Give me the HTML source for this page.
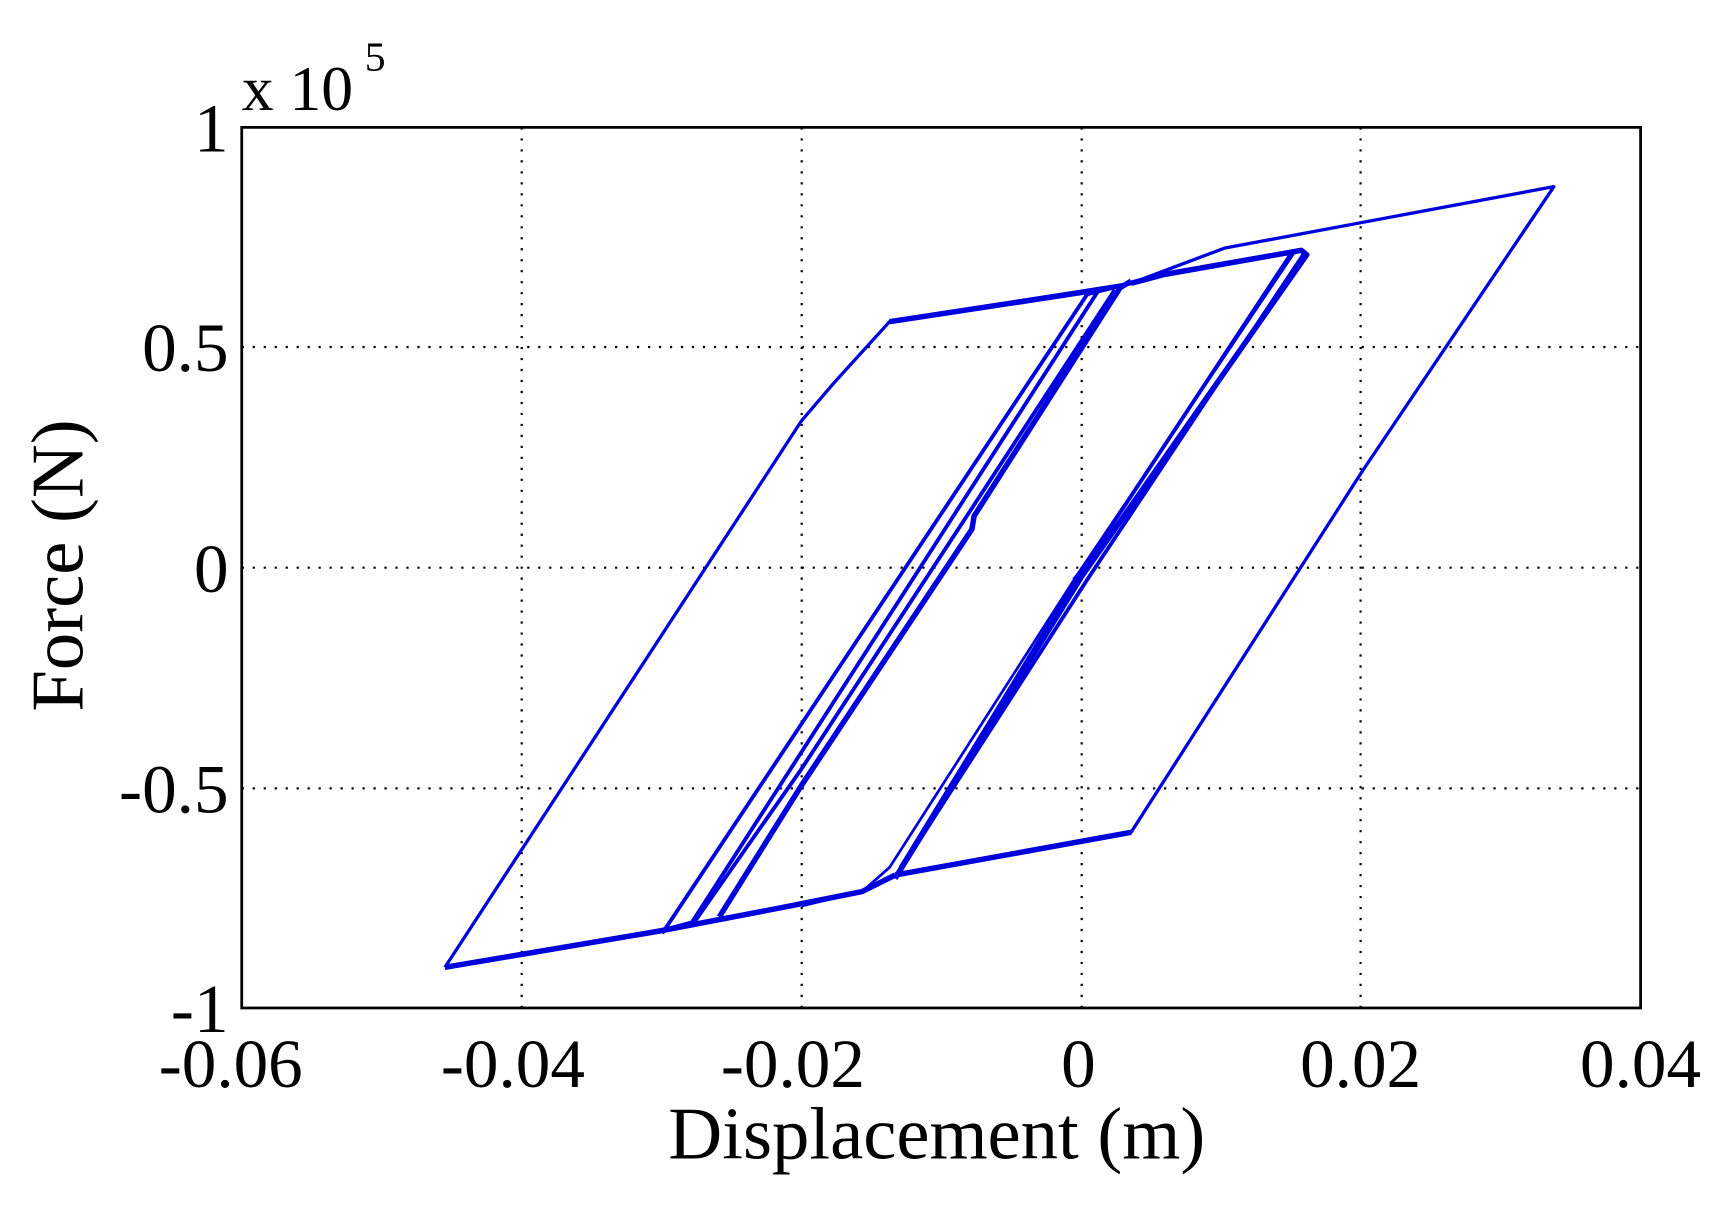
<!DOCTYPE html>
<html><head><meta charset="utf-8"><style>html,body{margin:0;padding:0;background:#fff}svg{display:block}</style></head>
<body>
<svg width="1722" height="1210" viewBox="0 0 1568 1102" xmlns="http://www.w3.org/2000/svg" font-family="'Liberation Serif', serif">
<rect width="1568" height="1102" fill="#fff"/>
<g stroke="#000" stroke-width="2" stroke-dasharray="2,8">
<line x1="475" y1="116" x2="475" y2="918"/><line x1="730" y1="116" x2="730" y2="918"/>
<line x1="985" y1="116" x2="985" y2="918"/><line x1="1239" y1="116" x2="1239" y2="918"/>
<line x1="220" y1="316" x2="1494" y2="316"/><line x1="220" y1="517" x2="1494" y2="517"/>
<line x1="220" y1="718" x2="1494" y2="718"/>
</g>
<g stroke="#0000dd" fill="none" stroke-linejoin="round">
<polyline stroke-width="3" points="405,881 730,383 760,348 810,293 1030,258 1115,226 1415,170 1240,430 1030,758 815,797"/>
<polyline stroke-width="5" points="810,293 1000,264"/>
<polyline stroke-width="5" points="405,881 600,848 720,825 785,812 815,797"/>
<polyline stroke-width="5" points="1030,758 815,797"/>
<polyline stroke-width="3.5" points="603,850 990,268 1030,258"/>
<polyline stroke-width="3.5" points="600,848 630,840 1000,265 1030,258"/>
<polyline stroke-width="5" points="655,835 730,715 885,482 887,470 1020,262 1030,256"/>
<polyline stroke-width="3.5" points="630,843 730,700 1015,264"/>
<polyline stroke-width="5" points="1030,258 1060,250 1185,228 1190,232 985,525 815,800"/>
<polyline stroke-width="2.5" points="1180,228 980,525 810,790 785,812 730,825"/>
<polyline stroke-width="3.5" points="1175,232 985,520 820,790"/>
<polyline stroke-width="3.5" points="1188,230 990,528 818,795"/>
<polyline stroke-width="4" points="985,520 978,528"/>
</g>
<rect x="220" y="116" width="1274" height="802" fill="none" stroke="#000" stroke-width="2.5"/>
<g font-size="63" fill="#000" text-anchor="middle">
<text x="210" y="990">-0.06</text><text x="467" y="990">-0.04</text>
<text x="722" y="990">-0.02</text><text x="982" y="990">0</text>
<text x="1239" y="990">0.02</text><text x="1494" y="990">0.04</text>
</g>
<g font-size="63" fill="#000" text-anchor="end">
<text x="208" y="138">1</text><text x="208" y="338">0.5</text>
<text x="208" y="539">0</text><text x="208" y="740">-0.5</text>
<text x="208" y="940">-1</text>
</g>
<text x="220" y="100" font-size="58" fill="#000">x 10</text>
<text x="332" y="64" font-size="38" fill="#000">5</text>
<text x="853" y="1055" font-size="68" fill="#000" text-anchor="middle">Displacement (m)</text>
<text transform="translate(75,515) rotate(-90)" font-size="68" fill="#000" text-anchor="middle">Force (N)</text>
</svg>
</body></html>
